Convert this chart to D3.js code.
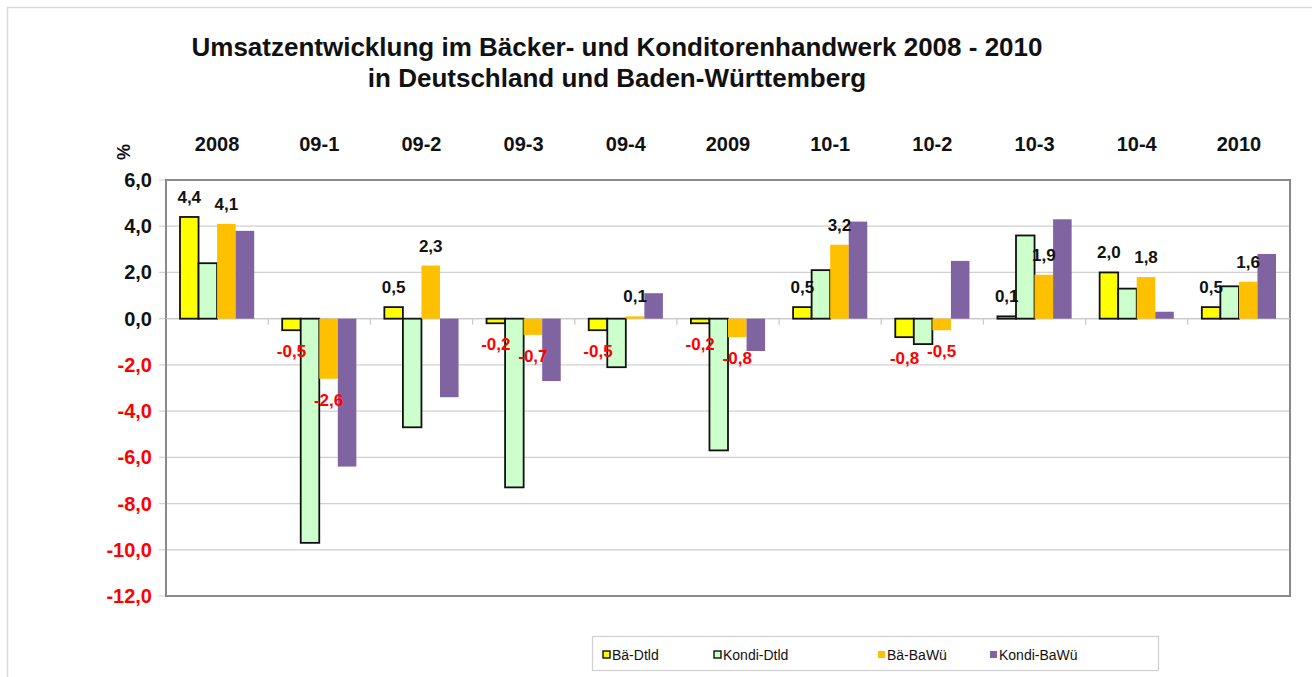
<!DOCTYPE html>
<html>
<head>
<meta charset="utf-8">
<script src="https://cdn.jsdelivr.net/npm/d3@7"></script>
<style>
  body { margin: 0; background: #fff; }
  svg { display: block; font-family: "Liberation Sans", Arial, sans-serif; }
</style>
</head>
<body>
<svg id="chart" width="1312" height="677"></svg>
<script>
// chart data
const categories = ["2008", "09-1", "09-2", "09-3", "09-4", "2009", "10-1", "10-2", "10-3", "10-4", "2010"];
const seriesNames = ["Bä-Dtld", "Kondi-Dtld", "Bä-BaWü", "Kondi-BaWü"];
const baeDtld    = [4.4, -0.5, 0.5, -0.2, -0.5, -0.2, 0.5, -0.8, 0.1, 2.0, 0.5];
const kondiDtld  = [2.4, -9.7, -4.7, -7.3, -2.1, -5.7, 2.1, -1.1, 3.6, 1.3, 1.4];
const baeBaWue   = [4.1, -2.6, 2.3, -0.7, 0.1, -0.8, 3.2, -0.5, 1.9, 1.8, 1.6];
const kondiBaWue = [3.8, -6.4, -3.4, -2.7, 1.1, -1.4, 4.2, 2.5, 4.3, 0.3, 2.8];
const yTicks = [6, 4, 2, 0, -2, -4, -6, -8, -10, -12];

const colors = ["#ffff00", "#ccffcc", "#ffc000", "#8064a2"];
const outlined = [true, true, false, false];
const labelled = [true, false, true, false];
const seriesValues = [baeDtld, kondiDtld, baeBaWue, kondiBaWue];

const svg = d3.select("#chart");
const plotLeft = 166, plotRight = 1290, plotTop = 180, plotBottom = 596;
const locale = d3.formatLocale({ decimal: ",", thousands: ".", grouping: [3], currency: ["", " €"], minus: "-" });
const fmt = locale.format(".1f");

// outer frame
svg.append("path")
  .attr("d", "M7.5,677 V7.5 H1312")
  .attr("fill", "none").attr("stroke", "#d9d9d9").attr("stroke-width", 1.5);

// title
const title = svg.append("text")
  .attr("text-anchor", "middle")
  .attr("font-weight", "bold").attr("font-size", 26).attr("fill", "#111");
title.append("tspan").attr("x", 617).attr("y", 56)
  .text("Umsatzentwicklung im Bäcker- und Konditorenhandwerk 2008 - 2010");
title.append("tspan").attr("x", 617).attr("y", 87)
  .text("in Deutschland und Baden-Württemberg");

const x0 = d3.scaleBand().domain(categories).range([plotLeft, plotRight]).padding(0);
const x1 = d3.scaleBand().domain(d3.range(4)).range([14, x0.bandwidth() - 14]).padding(0);
const y = d3.scaleLinear().domain([-12, 6]).range([plotBottom, plotTop]);

// gridlines
svg.append("g")
  .selectAll("line")
  .data(yTicks)
  .join("line")
  .attr("x1", plotLeft - 7).attr("x2", plotRight)
  .attr("y1", d => y(d)).attr("y2", d => y(d))
  .attr("stroke", "#d0d0d0").attr("stroke-width", 1.2);

// y labels
svg.append("g")
  .selectAll("text")
  .data(yTicks)
  .join("text")
  .attr("x", 152).attr("y", d => y(d) + 7)
  .attr("text-anchor", "end")
  .attr("font-weight", "bold").attr("font-size", 20)
  .attr("fill", d => d < 0 ? "#ff0000" : "#111")
  .text(d => fmt(d));

svg.append("text")
  .attr("transform", "translate(130,152) rotate(-90)")
  .attr("text-anchor", "middle")
  .attr("font-weight", "bold").attr("font-size", 18).attr("fill", "#111")
  .text("%");

// category labels on top
svg.append("g")
  .selectAll("text")
  .data(categories)
  .join("text")
  .attr("x", d => x0(d) + x0.bandwidth() / 2)
  .attr("y", 151)
  .attr("text-anchor", "middle")
  .attr("font-weight", "bold").attr("font-size", 20).attr("fill", "#111")
  .text(d => d);

// category ticks on zero line
svg.append("g")
  .selectAll("line")
  .data(categories.slice(1))
  .join("line")
  .attr("x1", d => x0(d)).attr("x2", d => x0(d))
  .attr("y1", y(0)).attr("y2", y(0) + 6)
  .attr("stroke", "#c8c8c8").attr("stroke-width", 1.2);

// plot frame
svg.append("rect")
  .attr("x", plotLeft).attr("y", plotTop)
  .attr("width", plotRight - plotLeft).attr("height", plotBottom - plotTop)
  .attr("fill", "none").attr("stroke", "#8a8a8a").attr("stroke-width", 2);

// zero line
svg.append("line")
  .attr("x1", plotLeft).attr("x2", plotRight)
  .attr("y1", y(0)).attr("y2", y(0))
  .attr("stroke", "#c8c8c8").attr("stroke-width", 1.2);

// bars
seriesValues.forEach((vals, s) => {
  svg.append("g")
    .selectAll("rect")
    .data(vals)
    .join("rect")
    .attr("x", (d, i) => x0(categories[i]) + x1(s))
    .attr("y", d => y(Math.max(0, d)))
    .attr("width", x1.bandwidth())
    .attr("height", d => Math.abs(y(d) - y(0)))
    .attr("fill", colors[s])
    .attr("stroke", outlined[s] ? "#111" : "none")
    .attr("stroke-width", outlined[s] ? 1.8 : 0);
});

// value labels
seriesValues.forEach((vals, s) => {
  if (!labelled[s]) return;
  svg.append("g")
    .selectAll("text")
    .data(vals)
    .join("text")
    .attr("x", (d, i) => x0(categories[i]) + x1(s) + x1.bandwidth() / 2)
    .attr("y", d => d < 0 ? y(d) + 27 : y(d) - 14)
    .attr("text-anchor", "middle")
    .attr("font-weight", "bold").attr("font-size", 17)
    .attr("fill", d => d < 0 ? "#ff0000" : "#111")
    .text(d => fmt(d));
});

// legend
const legend = svg.append("g");
legend.append("rect")
  .attr("x", 592.5).attr("y", 636.5).attr("width", 566).attr("height", 34)
  .attr("fill", "#fff").attr("stroke", "#d0d0d0").attr("stroke-width", 1.2);
const legendX = [603, 714, 878, 990];
seriesNames.forEach((name, s) => {
  legend.append("rect")
    .attr("x", legendX[s]).attr("y", 651).attr("width", 7).attr("height", 7)
    .attr("fill", colors[s])
    .attr("stroke", outlined[s] ? "#111" : "none")
    .attr("stroke-width", 1.4);
  legend.append("text")
    .attr("x", legendX[s] + 9).attr("y", 660)
    .attr("font-size", 14).attr("fill", "#111")
    .text(name);
});
</script>
</body>
</html>
